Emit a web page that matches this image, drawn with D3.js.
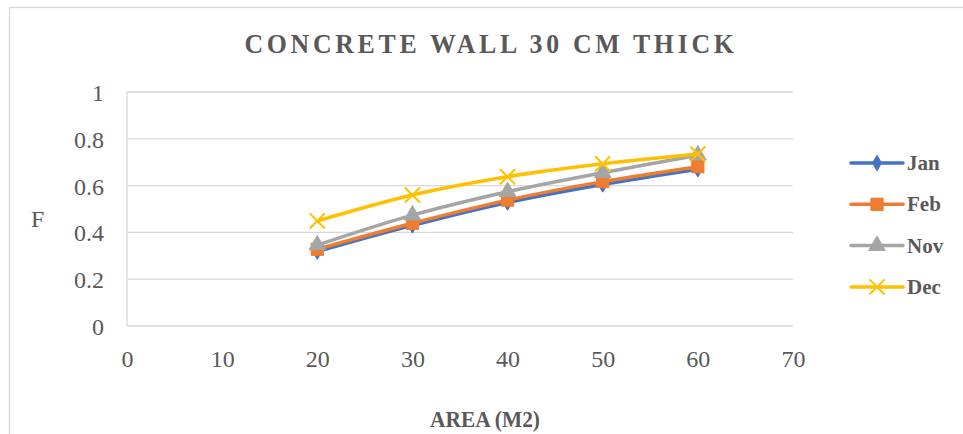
<!DOCTYPE html>
<meta charset="utf-8">
<style>

body {
  margin: 0;
  background: #fff;
  overflow: hidden;
}

text {
  font-family: "Liberation Serif", "Times New Roman", serif;
  fill: #595959;
}

.grid line {
  stroke: #d9d9d9;
  stroke-width: 1.3px;
}

.series {
  fill: none;
  stroke-width: 3.5px;
  stroke-linecap: round;
}

</style>
<svg width=963 height=434></svg>
<script src='https://cdn.jsdelivr.net/npm/d3@7'></script>
<script>

const areas = [20, 30, 40, 50, 60];
const seriesNames = ["Jan", "Feb", "Nov", "Dec"];
const jan = [0.318, 0.430, 0.528, 0.605, 0.670];
const feb = [0.328, 0.439, 0.538, 0.617, 0.681];
const nov = [0.346, 0.474, 0.574, 0.655, 0.730];
const dec = [0.449, 0.560, 0.638, 0.693, 0.735];
const xTicks = [0, 10, 20, 30, 40, 50, 60, 70];
const yTicks = [0, 0.2, 0.4, 0.6, 0.8, 1];

const colours = {"Jan": "#4472c4", "Feb": "#ed7d31", "Nov": "#a5a5a5", "Dec": "#ffc000"};
const symbols = {"Jan": d3.symbolDiamond, "Feb": d3.symbolSquare, "Nov": d3.symbolTriangle, "Dec": d3.symbolX};
const symbolSize = {"Jan": 70, "Feb": 150, "Nov": 120, "Dec": 150};
const values = {"Jan": jan, "Feb": feb, "Nov": nov, "Dec": dec};

const plotLeft = 127, plotRight = 793, plotTop = 92, plotBottom = 326;
const serif = '"Liberation Serif", "Times New Roman", serif';

let svg = d3.select("svg");

// chart frame
svg.append("rect")
  .attr("x", 9.5).attr("y", 7.5)
  .attr("width", 980).attr("height", 440)
  .attr("fill", "#fff")
  .attr("stroke", "#d9d9d9")
  .attr("stroke-width", 1.3);

let x = d3.scaleLinear().domain([0, 70]).range([plotLeft, plotRight]);
let y = d3.scaleLinear().domain([0, 1]).range([plotBottom, plotTop]);

// horizontal gridlines
svg.append("g").attr("class", "grid")
  .selectAll("line")
  .data(yTicks)
  .enter().append("line")
  .attr("x1", plotLeft).attr("x2", plotRight)
  .attr("y1", d => y(d)).attr("y2", d => y(d));

// vertical axis line
svg.append("line")
  .attr("x1", plotLeft).attr("x2", plotLeft)
  .attr("y1", plotTop).attr("y2", plotBottom)
  .attr("stroke", "#d9d9d9").attr("stroke-width", 1.3);

// y axis
let yAxis = svg.append("g")
  .attr("transform", "translate(" + (plotLeft - 23) + ",0)")
  .call(d3.axisLeft(y).tickValues(yTicks).tickSize(0).tickPadding(0).tickFormat(d3.format("")));
yAxis.attr("font-family", serif);
yAxis.select(".domain").remove();
yAxis.selectAll("text")
  .style("font-family", serif)
  .style("font-size", "24px")
  .style("fill", "#595959")
  .attr("dy", "0.35em");

// x axis
let xAxis = svg.append("g")
  .attr("transform", "translate(0," + (plotBottom + 25) + ")")
  .call(d3.axisBottom(x).tickValues(xTicks).tickSize(0).tickPadding(0));
xAxis.attr("font-family", serif);
xAxis.select(".domain").remove();
xAxis.selectAll("text")
  .style("font-family", serif)
  .style("font-size", "24px")
  .style("fill", "#595959")
  .attr("dy", "0.67em");

// titles
svg.append("text")
  .attr("x", 491).attr("y", 53)
  .attr("text-anchor", "middle")
  .attr("textLength", 493)
  .attr("lengthAdjust", "spacingAndGlyphs")
  .style("font-size", "28px")
  .style("letter-spacing", "4px")
  .style("font-weight", "bold")
  .text("CONCRETE WALL 30 CM THICK");

svg.append("text")
  .attr("x", 485).attr("y", 427)
  .attr("text-anchor", "middle")
  .attr("textLength", 110)
  .attr("lengthAdjust", "spacingAndGlyphs")
  .style("font-size", "23px")
  .style("font-weight", "bold")
  .text("AREA (M2)");

svg.append("text")
  .attr("x", 31).attr("y", 227)
  .style("font-size", "24px")
  .text("F");

// series
let line = d3.line()
  .x((d, i) => x(areas[i]))
  .y(d => y(d))
  .curve(d3.curveCardinal.tension(0));

seriesNames.forEach(name => {
  let g = svg.append("g");
  g.append("path")
    .attr("class", "series")
    .attr("d", line(values[name]))
    .style("stroke", colours[name]);
  g.selectAll("path.marker")
    .data(values[name])
    .enter().append("path")
    .attr("class", "marker")
    .attr("d", d3.symbol().type(symbols[name]).size(symbolSize[name]))
    .attr("transform", (d, i) => "translate(" + x(areas[i]) + "," + y(d) + ")")
    .style("fill", name == "Dec" ? "none" : colours[name])
    .style("stroke", colours[name])
    .style("stroke-width", name == "Dec" ? 2 : 1);
});

// legend
let legend = svg.append("g").selectAll("g")
  .data(seriesNames)
  .enter().append("g")
  .attr("transform", (d, i) => "translate(0," + (163 + i * 41.3) + ")");

legend.append("line")
  .attr("x1", 851).attr("x2", 903)
  .attr("stroke", d => colours[d])
  .attr("stroke-width", 3.5)
  .attr("stroke-linecap", "round");

legend.append("path")
  .attr("d", d => d3.symbol().type(symbols[d]).size(symbolSize[d])())
  .attr("transform", "translate(877,0)")
  .style("fill", d => d == "Dec" ? "none" : colours[d])
  .style("stroke", d => colours[d])
  .style("stroke-width", d => d == "Dec" ? 2 : 1);

legend.append("text")
  .attr("x", 907).attr("y", 0)
  .attr("dy", "0.33em")
  .style("font-size", "21px")
  .style("font-weight", "bold")
  .text(d => d);

</script>
